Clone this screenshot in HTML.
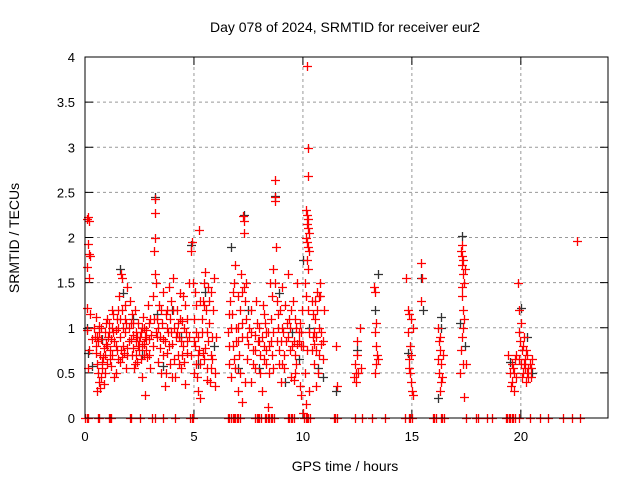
<!DOCTYPE html>
<html><head><meta charset="utf-8"><style>
body{margin:0;background:#fff}
svg{display:block;font-family:"Liberation Sans",sans-serif}
</style></head><body>
<svg id="chart" width="640" height="480" viewBox="0 0 640 480">
<rect width="640" height="480" fill="#fff"/>
<text x="345" y="32" text-anchor="middle" font-size="14">Day 078 of 2024, SRMTID for receiver eur2</text>
<text x="345" y="471" text-anchor="middle" font-size="14">GPS time / hours</text>
<text transform="translate(19,238) rotate(-90)" text-anchor="middle" font-size="14">SRMTID / TECUs</text>
<g id="grid"></g>
<g id="axes"></g>
<g id="grayg"></g>
<g id="redg"></g>
<rect x="85" y="57" width="523" height="361" fill="none" stroke="#000" stroke-width="1"/>
</svg>
<script>
const xTicks=[0,5,10,15,20];
const yTicks=[0,0.5,1,1.5,2,2.5,3,3.5,4];
const yTickLabels=["0","0.5","1","1.5","2","2.5","3","3.5","4"];
const redPts=[0.1,2.2,0.15,2.23,0.2,2.18,0.15,1.93,0.2,1.82,0.25,1.8,0.1,1.67,0.2,1.55,0.1,1.22,0.25,1.15,0.1,0.98,0.3,0.88,0.2,0.75,0.15,0.55,
0.45,0.9,0.5,0.72,0.55,0.6,0.6,0.5,0.65,0.4,0.7,0.33,0.75,0.45,0.8,0.62,0.85,0.78,0.9,0.95,0.95,1.05,0.5,1.12,0.6,0.85,0.7,0.7,0.75,0.88,0.8,0.55,0.85,0.38,0.9,0.7,0.95,0.82,1.0,0.6,0.65,1.02,0.55,0.3,
1.05,0.9,1.1,1.05,1.15,0.75,1.2,0.58,1.25,1.2,1.3,0.95,1.35,0.45,1.4,0.8,1.45,1.1,1.5,0.65,1.55,1.35,1.6,0.9,1.65,1.6,1.7,1.55,1.75,1.0,1.8,0.72,1.85,1.25,1.9,0.55,1.95,1.45,2.0,0.85,1.2,0.88,1.3,1.15,1.5,1.0,1.7,1.2,1.85,0.95,1.6,0.62,1.4,0.5,1.9,1.05,1.25,0.7,1.75,0.8,
2.05,1.3,2.1,1.05,2.15,0.7,2.2,0.92,2.25,0.55,2.3,1.2,2.35,0.85,2.4,0.62,2.45,1.05,2.5,0.75,2.55,0.95,2.6,0.45,2.65,1.12,2.7,0.82,2.75,0.25,2.8,0.98,2.85,0.68,2.9,1.25,2.95,0.88,3.0,0.55,2.2,0.78,2.4,0.9,2.6,1.0,2.8,0.75,3.0,1.1,2.3,0.6,2.7,0.7,2.5,0.85,
3.2,2.43,3.22,2.27,3.2,1.99,3.18,1.85,3.22,1.6,3.25,1.5,3.1,1.35,3.15,1.1,3.3,0.9,3.35,0.62,3.4,1.25,3.45,0.78,3.5,0.5,3.55,1.05,3.6,0.88,3.65,0.35,3.7,1.15,3.75,0.72,3.8,0.95,3.85,1.45,3.9,0.6,3.95,1.3,4.0,0.82,4.05,1.55,4.1,1.0,4.15,0.45,4.2,1.2,4.25,0.7,4.3,0.9,4.35,1.38,4.4,0.55,4.45,1.08,4.5,0.8,4.55,0.62,4.6,1.25,4.65,0.95,4.7,0.72,4.75,1.5,3.6,1.4,3.75,1.2,4.0,0.45,4.2,0.95,4.4,0.85,4.6,0.38,
4.85,1.85,4.9,1.95,4.95,1.5,5.0,1.1,5.05,0.8,5.1,0.6,5.15,0.45,5.2,0.3,5.25,2.08,5.3,1.3,5.35,0.95,5.4,0.72,5.45,1.5,5.5,1.62,5.55,1.2,5.6,0.55,5.65,0.85,5.7,1.05,5.75,0.4,5.8,1.4,5.85,0.65,5.9,1.55,5.95,0.35,6.0,0.9,5.0,0.5,5.2,0.9,5.4,1.3,5.6,0.42,5.8,0.55,5.1,1.25,5.5,0.78,5.3,0.22,
6.55,0.95,6.6,0.6,6.65,1.3,6.7,0.45,6.75,1.15,6.8,0.8,6.85,1.5,6.9,0.55,6.95,1.0,7.0,0.3,7.05,0.7,7.1,1.2,7.15,1.6,7.2,0.9,7.25,2.24,7.3,2.18,7.28,2.05,7.3,1.45,7.35,0.4,7.4,1.1,7.45,0.65,7.5,0.82,7.2,0.18,6.9,1.7,7.0,1.35,
7.6,1.2,7.7,0.75,7.8,0.55,7.9,1.05,8.0,0.85,8.1,0.3,8.15,1.25,8.2,0.65,8.3,0.95,8.4,0.12,8.45,0.5,8.5,1.5,8.55,1.1,8.6,0.7,8.65,1.65,8.7,2.64,8.72,2.45,8.7,2.4,8.75,1.9,8.8,1.3,8.85,1.0,8.9,0.6,8.95,1.2,9.0,0.85,9.05,1.45,9.1,0.95,9.15,0.55,9.2,1.25,9.3,1.6,9.35,1.1,9.4,0.75,9.45,0.45,8.0,1.0,8.3,0.6,8.6,1.35,9.0,0.4,7.8,0.92,8.2,1.15,
9.55,1.3,9.6,0.85,9.65,1.1,9.7,0.6,9.75,1.5,9.8,0.95,9.85,0.35,9.9,0.8,9.95,1.2,10.0,0.05,9.9,0.25,9.7,1.0,9.6,0.42,
10.2,3.9,10.25,2.99,10.22,2.68,10.15,2.3,10.2,2.25,10.25,2.2,10.18,2.15,10.22,2.1,10.28,2.05,10.15,2.0,10.2,1.95,10.25,1.9,10.3,1.85,10.18,1.75,10.22,1.65,10.1,1.5,10.15,1.35,10.25,1.2,10.3,0.95,10.2,0.75,10.1,0.5,10.28,0.3,10.15,0.15,
10.4,1.3,10.45,0.9,10.5,0.6,10.55,1.1,10.6,0.75,10.65,1.4,10.7,0.5,10.75,1.0,10.8,1.5,10.85,0.82,10.9,0.65,10.95,1.2,10.6,0.35,10.8,1.35,10.5,0.95,
11.5,0.8,11.55,0.35,12.35,0.45,12.4,0.6,12.45,0.4,12.5,0.7,12.55,0.5,12.6,1.0,12.5,0.85,12.65,0.55,
13.25,1.45,13.3,1.4,13.35,1.05,13.3,0.95,13.4,0.7,13.35,0.6,13.3,0.5,13.45,0.65,
14.75,1.55,14.8,1.2,14.85,1.15,14.8,0.95,14.9,0.8,14.85,0.55,14.9,0.5,14.95,0.4,15.0,0.3,15.05,0.25,14.95,0.7,15.05,1.0,
15.4,1.72,15.45,1.55,15.4,1.3,
16.2,1.0,16.25,0.85,16.3,0.75,16.35,0.6,16.25,0.5,16.4,0.45,16.3,0.3,16.45,0.7,
17.25,1.85,17.3,1.8,17.35,1.75,17.3,1.7,17.35,1.6,17.4,1.5,17.3,1.35,17.35,1.2,17.4,1.1,17.3,0.9,17.25,0.75,17.35,0.6,17.2,0.5,17.4,0.23,17.5,0.6,17.45,1.65,17.28,1.92,
19.4,0.7,19.5,0.5,19.55,0.35,19.6,0.4,19.65,0.55,19.7,0.3,19.75,0.65,19.8,0.45,19.85,1.5,19.9,1.2,19.95,0.85,20.0,0.6,20.05,0.75,20.1,0.5,20.15,0.9,20.2,0.65,20.25,0.4,20.3,0.7,20.35,0.55,20.4,0.6,20.45,0.45,20.5,0.65,19.9,0.95,20.0,1.05,20.1,0.8,20.2,0.55,20.3,0.5,19.8,0.7,
22.6,1.96];
const redExtra=[0.5,0.8,0.62,0.95,0.72,1.0,0.82,0.68,0.92,0.5,1.02,0.8,1.12,0.95,1.22,1.0,1.32,0.85,1.42,0.98,1.52,1.2,1.62,1.1,1.72,0.68,1.82,1.1,1.92,0.78,2.02,1.0,2.12,0.88,2.22,1.05,2.32,0.95,2.42,0.8,2.52,0.9,2.62,0.8,2.72,1.0,2.82,0.88,2.92,0.7,3.02,0.92,3.12,0.8,3.26,0.95,3.36,1.0,3.46,0.9,3.56,0.7,3.66,0.85,3.76,1.0,3.86,0.8,3.96,0.95,4.06,1.2,4.16,0.9,4.26,1.05,4.36,1.1,4.46,0.7,4.56,1.0,4.66,0.85,4.76,0.9,4.88,0.7,4.98,0.85,5.08,0.95,5.18,0.7,5.28,0.6,5.38,1.1,5.48,1.25,5.58,0.95,5.68,1.3,5.78,0.7,5.88,1.2,5.98,0.5,6.62,0.8,6.72,1.0,6.82,0.65,6.92,0.85,7.02,1.0,7.12,0.5,7.22,1.05,7.32,1.3,7.42,0.9,7.52,1.0,7.62,0.95,7.72,0.6,7.82,0.75,7.92,0.85,8.02,0.7,8.12,0.9,8.22,0.8,8.32,0.75,8.42,0.95,8.52,0.85,8.62,0.95,8.72,1.5,8.82,0.85,8.92,0.75,9.02,1.0,9.12,0.7,9.22,0.85,9.32,0.9,9.42,1.0,9.52,0.8,9.62,0.7,9.72,0.82,9.82,0.85,9.92,0.95,10.02,0.8,10.42,0.75,10.52,0.82,10.62,0.9,10.72,0.7,10.82,0.95,10.92,0.85,10.45,1.15,10.55,1.3,10.65,1.2,10.75,1.35,0.4,1.0,0.55,0.9,1.0,1.1,1.15,0.65,1.45,0.75,1.65,0.75,1.95,0.7,2.15,1.15,2.35,0.7,2.55,0.65,2.75,0.9,2.95,1.05,3.3,1.1,3.5,1.2,3.7,0.5,3.9,1.1,4.1,0.65,4.3,0.6,4.5,1.35,4.7,1.1,5.05,1.4,5.25,0.75,5.45,0.65,5.65,1.45,5.85,0.9,6.6,1.15,6.8,1.4,7.0,0.85,7.2,1.4,7.4,1.5,7.6,0.4,7.85,1.3,8.05,0.5,8.25,1.05,8.45,0.8,8.65,0.55,8.85,1.15,9.05,0.6,9.25,1.05,9.45,1.2,9.65,0.5,9.85,1.05,14.85,0.65,14.95,1.1,16.3,0.9,16.35,0.4,17.3,1.45,17.35,1.0,19.6,0.6,19.7,0.5,19.9,0.65,20.05,0.45,20.15,0.6,20.25,0.75,20.35,0.45,20.45,0.55,12.45,0.5,13.35,0.8,16.2,0.65];
const grayPts=[0.1,1.0,0.15,0.72,0.3,0.58,0.8,0.88,1.6,1.65,1.75,1.38,2.2,1.1,2.6,0.7,3.2,2.45,3.3,1.15,3.6,0.58,4.0,1.2,4.4,0.9,4.85,1.92,5.2,0.6,5.5,1.4,5.9,0.8,6.7,1.9,7.0,0.55,7.3,2.25,7.5,1.2,8.0,0.55,8.7,2.46,8.9,1.38,9.2,0.4,9.5,0.95,9.8,0.65,10.0,1.75,10.3,1.0,10.7,0.55,10.9,0.45,11.5,0.3,12.5,0.75,13.45,1.6,13.3,1.2,14.8,0.72,15.4,1.55,15.5,1.2,16.35,1.12,16.2,0.22,17.3,2.02,17.45,0.8,17.2,1.05,19.5,0.62,20.0,1.22,20.3,0.9,20.5,0.5,16.35,1.0];
const zeroHours=[0.02,0.08,0.14,0.6,0.65,1.1,1.15,1.2,2.06,2.1,2.52,3.07,3.2,3.58,4.13,4.82,4.9,4.95,6.56,6.63,6.7,6.77,6.83,6.9,6.97,7.04,7.1,7.8,7.87,7.94,8.0,8.07,8.26,8.32,8.39,8.46,8.53,8.6,8.67,9.31,9.38,9.45,9.52,9.59,10.05,10.12,10.18,10.25,10.32,11.42,11.49,11.56,12.39,12.7,13.17,13.76,14.68,14.86,14.93,15.0,15.96,16.03,16.1,16.33,16.4,16.47,17.48,17.94,18.03,18.44,18.67,19.31,19.38,19.45,19.52,19.59,19.66,19.72,19.9,20.41,20.87,21.24,21.93,22.34,22.7];

const X0=85,X1=608,Y0=418,Y1=57;
const xs=h=>X0+h*(X1-X0)/24;
const ys=v=>Y0-v*(Y0-Y1)/4;
const NS="http://www.w3.org/2000/svg";
function mk(tag,parent,attrs){const e=document.createElementNS(NS,tag);for(const k in attrs)e.setAttribute(k,attrs[k]);parent.appendChild(e);return e;}
const grid=document.getElementById('grid'),axes=document.getElementById('axes');
yTicks.forEach((t,i)=>{
  const y=ys(t);
  if(t>0&&t<4){const g=mk('line',grid,{x1:X0,x2:X1,y1:y,y2:y,stroke:'#999','stroke-dasharray':'3,3'});
  
  }
  const tk=mk('path',axes,{d:`M${X0} ${y}h8M${X1} ${y}h-8`,stroke:'#000'});
  
  
  const tx=mk('text',axes,{x:X0-10,y:y+5,'text-anchor':'end','font-size':'13'});
  tx.textContent=yTickLabels[i];
  
  
});
xTicks.forEach(t=>{
  const x=xs(t);
  if(t>0){const g=mk('line',grid,{x1:x,x2:x,y1:Y0,y2:Y1,stroke:'#999','stroke-dasharray':'3,3'});
  
  }
  const tk=mk('path',axes,{d:`M${x} ${Y0}v-8M${x} ${Y1}v8`,stroke:'#000'});
  
  
  const tx=mk('text',axes,{x:x,y:Y0+23,'text-anchor':'middle','font-size':'13'});
  tx.textContent=String(t);
  
  
});
function plus(arrH,arrV,color,parent,name){
  let d='';
  for(let i=0;i<arrH.length;i++){const x=Math.round(xs(arrH[i]))+0.5,y=Math.round(ys(arrV[i]))+0.5;d+=`M${x-4.5} ${y}h9M${x} ${y-4.5}v9`;}
  const p=mk('path',parent,{d:d,stroke:color,'stroke-width':1.3,fill:'none'});
  
  
}
function split(a){const h=[],v=[];for(let i=0;i<a.length;i+=2){h.push(a[i]);v.push(a[i+1]);}return [h,v];}
const [gH,gV]=split(grayPts);
const [rH,rV]=split(redPts);
const [eH,eV]=split(redExtra);
plus(gH,gV,'#333',document.getElementById('grayg'),'gray-markers');
plus(rH,rV,'#ff0000',document.getElementById('redg'),'red-markers');
plus(eH,eV,'#ff0000',document.getElementById('redg'),'red-markers-extra');
plus(zeroHours,zeroHours.map(()=>0),'#ff0000',document.getElementById('redg'),'zero-markers');
</script>
</body></html>
